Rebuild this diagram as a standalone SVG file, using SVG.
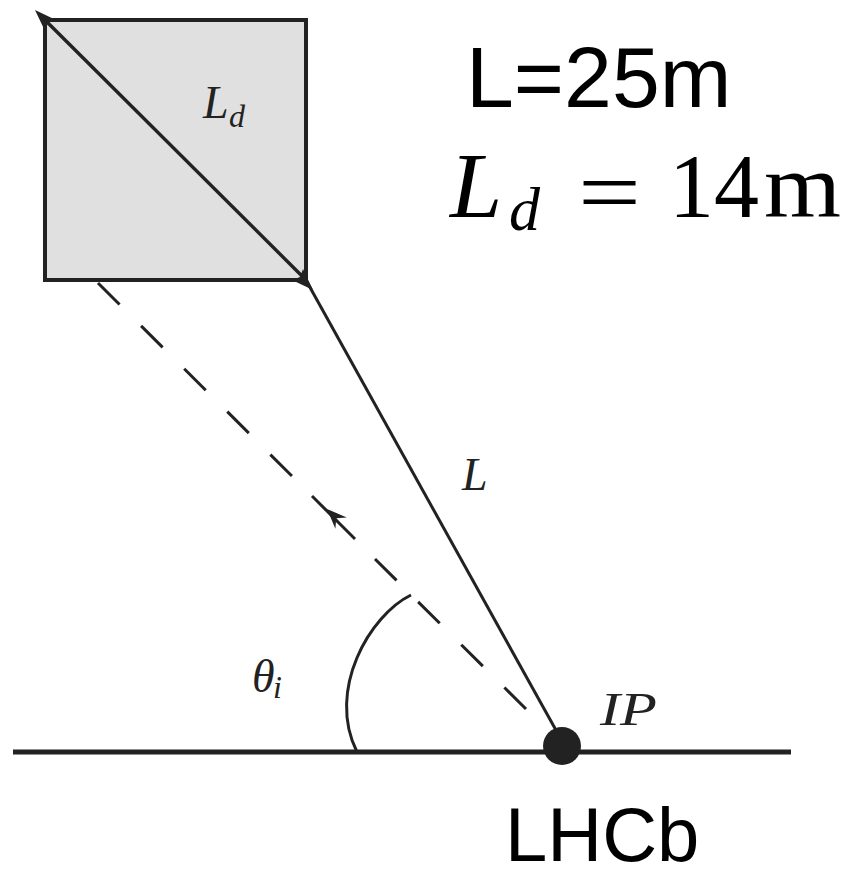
<svg xmlns="http://www.w3.org/2000/svg" width="850" height="880" viewBox="0 0 850 880">
<style>
.ln{stroke:#222;fill:none;stroke-linecap:butt}
.math{font-family:"Liberation Serif","DejaVu Serif",serif;font-style:italic;fill:#222}
.rm{font-family:"Liberation Serif","DejaVu Serif",serif;fill:#000}
.sans{font-family:"Liberation Sans",Arial,sans-serif;fill:#000}
.head{fill:#222}
</style>
<rect width="850" height="880" fill="#fff"/>
<g id="detector">
<rect x="45" y="20" width="261" height="260" fill="#e0e0e0" stroke="#222" stroke-width="4"/>
<text class="math" x="203" y="118" font-size="46">L</text>
<text class="math" x="229" y="127" font-size="32">d</text>
</g>
<g id="connectors">
<line class="ln" x1="45" y1="20" x2="306" y2="280" stroke-width="3.4"/>
<polygon class="head" points="35,10 56,20 48,23 45,31"/>
<polygon class="head" points="313,290 292,280 300,277 303,269"/>
<line class="ln" x1="307" y1="282" x2="557" y2="732" stroke-width="3"/>
<path class="ln" d="M98,283 L312,496" stroke-width="3" stroke-dasharray="30.4 30.4"/>
<path class="ln" d="M312,496 L355,539" stroke-width="3"/>
<polygon class="head" points="327,509 346.8,517.4 336.2,518.2 335.4,528.8"/>
<path class="ln" d="M375,559 L526,709" stroke-width="3" stroke-dasharray="30.4 30.4"/>
<path class="ln" d="M411,595 C370,615 326,690 357,752" stroke-width="3"/>
<line class="ln" x1="13" y1="752" x2="791" y2="752" stroke-width="5"/>
</g>
<g id="ip">
<circle cx="562" cy="746" r="19" fill="#222"/>
<text class="math" x="600" y="725" font-size="46" textLength="57" lengthAdjust="spacingAndGlyphs">IP</text>
</g>
<g id="labels">
<text class="math" x="462" y="490" font-size="46">L</text>
<text class="math" x="252" y="692" font-size="46">θ</text>
<text class="math" x="273" y="698" font-size="32">i</text>
<text class="sans" x="466" y="107" font-size="86">L=25m</text>
<text class="math" x="450" y="217" font-size="94" style="fill:#000">L</text>
<text class="math" x="509" y="230" font-size="62" style="fill:#000">d</text>
<text class="rm" x="578" y="223" font-size="90" textLength="63" lengthAdjust="spacingAndGlyphs">=</text>
<text class="rm" x="669" y="217" font-size="90">14</text>
<text class="rm" x="764" y="217" font-size="90" textLength="77" lengthAdjust="spacingAndGlyphs">m</text>
<text class="sans" x="505" y="861" font-size="76">LHCb</text>
</g>
</svg>
